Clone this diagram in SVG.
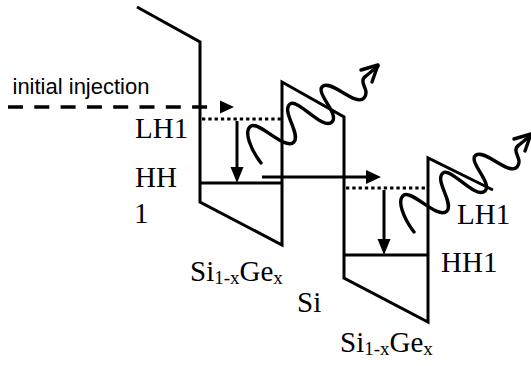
<svg xmlns="http://www.w3.org/2000/svg" xmlns:xlink="http://www.w3.org/1999/xlink" width="531" height="366" viewBox="0 0 531 366">
<style>
.ln{fill:none;stroke:#000;stroke-width:3;stroke-linejoin:miter}
.dot{fill:none;stroke:#000;stroke-width:3;stroke-dasharray:3.3 3}
.dash{fill:none;stroke:#000;stroke-width:3.5;stroke-dasharray:15 11.3}
.wave{fill:none;stroke:#000;stroke-width:3.4;stroke-linecap:round;stroke-linejoin:round}
.hd{fill:#000}
.ser{font-family:"Liberation Serif","Times New Roman",serif;font-size:29px;fill:#000}
.sans{font-family:"Liberation Sans",Arial,sans-serif;font-size:22px;fill:#000}
</style>
<defs>
<g id="photon">
<path class="wave" d="M261,163 C251,150 243,131 251,126 C259,121 285,151 294,142 C301,134 281,111 290,104 C298,98 323,131 332,122 C340,114 314,92 323,86 C332,80 356,107 364,98 C371,90 357,82 366,76 L378,66"/>
<polyline class="wave" points="361,70 378,65 372,82"/>
</g>
</defs>
<g id="band-profile">
<polyline class="ln" points="137,7 200,42 200,202 282,245 282,82 344,117 344,278 428,322 428,158 493,190"/>
</g>
<g id="left-well">
<line class="dot" x1="202" y1="119" x2="282" y2="119"/>
<line class="ln" x1="200" y1="183" x2="282" y2="183"/>
</g>
<g id="right-well">
<line class="dot" x1="346" y1="188" x2="428" y2="188"/>
<line class="ln" x1="344" y1="255" x2="428" y2="255"/>
</g>
<g id="connectors">
<line class="dash" x1="8" y1="107" x2="208" y2="107"/>
<polygon class="hd" points="220,100.5 234,107 220,113.5"/>
<line class="ln" x1="237" y1="121" x2="237" y2="168"/>
<polygon class="hd" points="230.5,167 243.5,167 237,183"/>
<line class="ln" x1="262" y1="177" x2="367" y2="177"/>
<polygon class="hd" points="366,170 366,184 381,177"/>
<line class="ln" x1="384" y1="190" x2="384" y2="240"/>
<polygon class="hd" points="377.5,239 390.5,239 384,255"/>
</g>
<g id="photons">
<use xlink:href="#photon"/>
<use xlink:href="#photon" transform="translate(153,69)"/>
</g>
<g id="labels">
<text class="sans" x="12.5" y="94">initial injection</text>
<text class="ser" x="135" y="138">LH1</text>
<text class="ser" x="135" y="187">HH</text>
<text class="ser" x="134" y="223">1</text>
<text class="ser" x="190" y="281">Si<tspan font-size="19" dy="3">1-x</tspan><tspan dy="-3">Ge</tspan><tspan font-size="19" dy="3">x</tspan></text>
<text class="ser" x="297" y="312">Si</text>
<text class="ser" x="457" y="224">LH1</text>
<text class="ser" x="441" y="272">HH1</text>
<text class="ser" x="340" y="352">Si<tspan font-size="19" dy="3">1-x</tspan><tspan dy="-3">Ge</tspan><tspan font-size="19" dy="3">x</tspan></text>
</g>
</svg>
